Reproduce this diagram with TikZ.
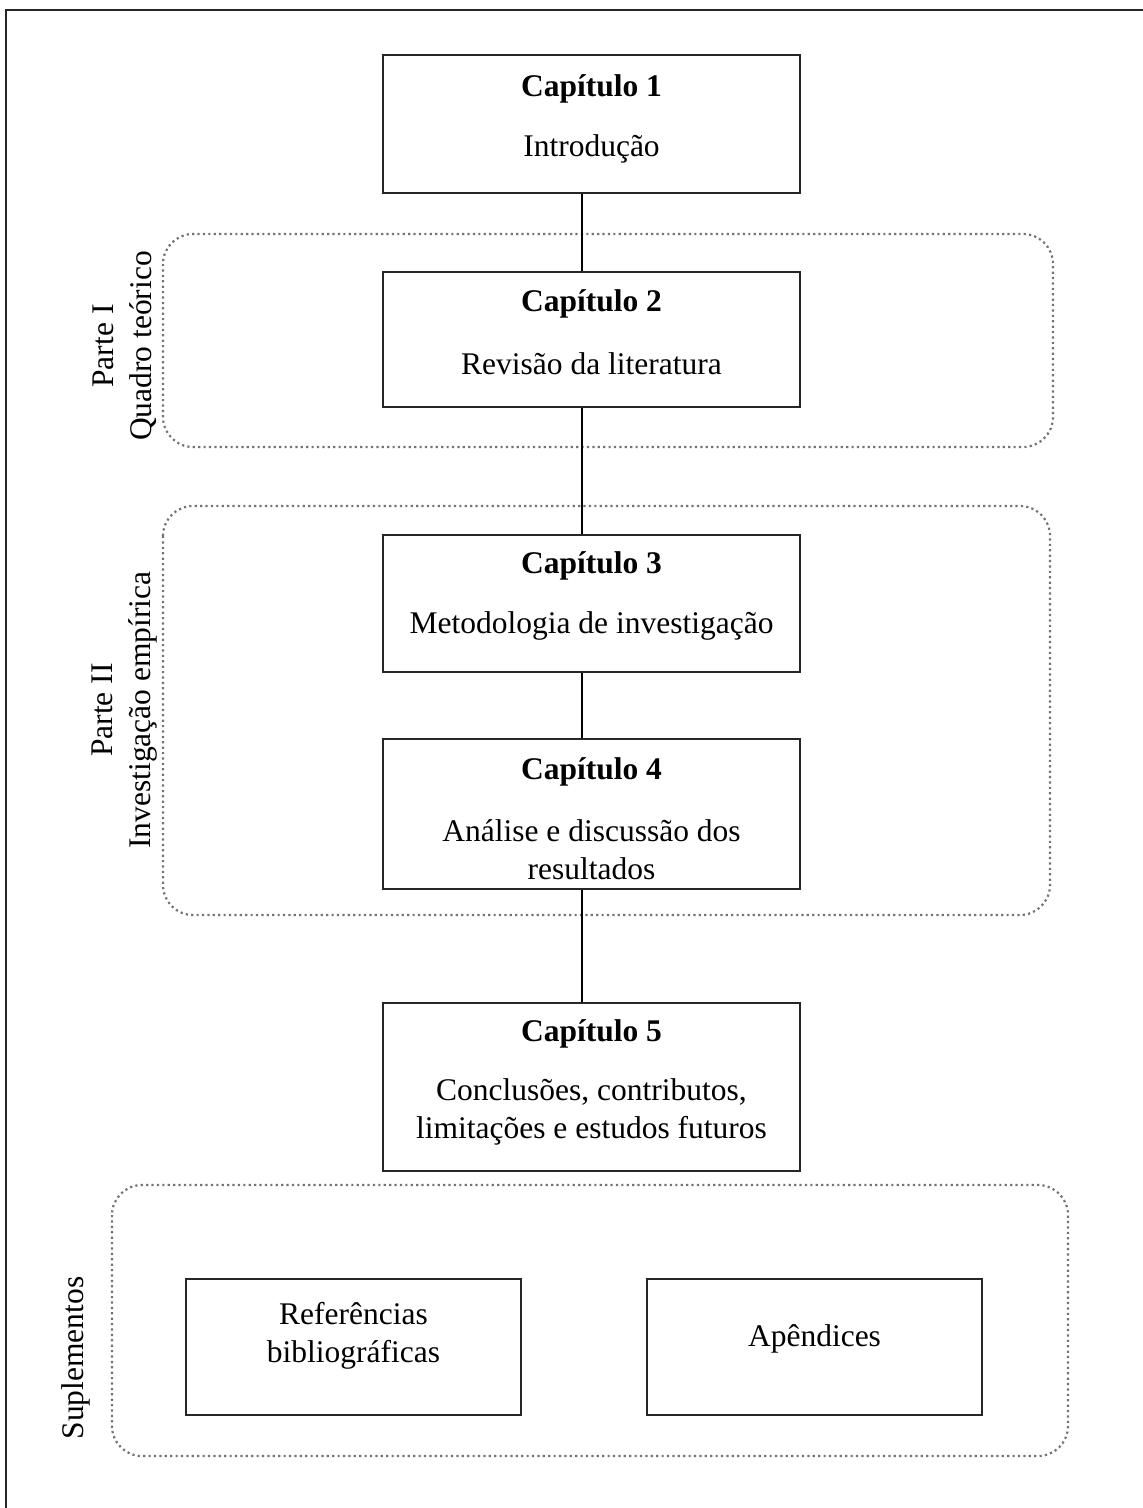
\documentclass[tikz,border=0pt]{standalone}
\usepackage{fontspec}
\setmainfont{Liberation Serif}
\begin{document}
\begin{tikzpicture}[x=1pt,y=-1pt,
  chbox/.style={draw=black!85, line width=1.6pt, inner sep=0pt},
  region/.style={draw=black!55, line width=2.2pt, dash pattern=on 2.2pt off 3.2pt, rounded corners=30pt},
  ttl/.style={font=\fontsize{31.5}{38}\selectfont\bfseries, inner sep=0pt, align=center},
  txt/.style={font=\fontsize{31.5}{38}\selectfont, inner sep=0pt, align=center},
  link/.style={draw=black, line width=1.3pt}]
\useasboundingbox (0,0) rectangle (1143,1508);
% outer frame (extends beyond right and bottom edges)
\draw[line width=2pt, black!85] (6,1530) -- (6,10) -- (1170,10);
% regions
\draw[region] (163,234) rectangle (1053,447);
\draw[region] (163,506) rectangle (1050,915);
\draw[region] (112,1185) rectangle (1068,1456);
% boxes
\node[chbox, minimum width=417pt, minimum height=138pt] (c1) at (591.5,124) {};
\node[chbox, minimum width=417pt, minimum height=135pt] (c2) at (591.5,339.5) {};
\node[chbox, minimum width=417pt, minimum height=137pt] (c3) at (591.5,603.5) {};
\node[chbox, minimum width=417pt, minimum height=150pt] (c4) at (591.5,814) {};
\node[chbox, minimum width=417pt, minimum height=168pt] (c5) at (591.5,1087) {};
\node[chbox, minimum width=335pt, minimum height=136pt] (ref) at (353.5,1347) {};
\node[chbox, minimum width=335pt, minimum height=136pt] (ape) at (814.5,1347) {};
% texts
\node[ttl] (c1t) at (591.5,89) {Capítulo 1};
\node[txt] (c1b) at (591.5,149) {Introdução};
\node[ttl] (c2t) at (591.5,304) {Capítulo 2};
\node[txt] (c2b) at (591.5,364) {Revisão da literatura};
\node[ttl] (c3t) at (591.5,566) {Capítulo 3};
\node[txt] (c3b) at (591.5,626) {Metodologia de investigação};
\node[ttl] (c4t) at (591.5,772) {Capítulo 4};
\node[txt] (c4b) at (591.5,850) {Análise e discussão dos\\resultados};
\node[ttl] (c5t) at (591.5,1034) {Capítulo 5};
\node[txt] (c5b) at (591.5,1112) {Conclusões, contributos,\\limitações e estudos futuros};
\node[txt] (reft) at (353.5,1336) {Referências\\bibliográficas};
\node[txt] (apet) at (814.5,1339) {Apêndices};
% side labels
\node[txt, rotate=90] (p1) at (125,346) {Parte I\\Quadro teórico};
\node[txt, rotate=90] (p2) at (125,710) {Parte II\\Investigação empírica};
\node[txt, rotate=90] (sup) at (76,1358) {Suplementos};
% connectors
\coordinate (lx) at (582,0);
\draw[link] (c1.south -| lx) -- (c2.north -| lx);
\draw[link] (c2.south -| lx) -- (c3.north -| lx);
\draw[link] (c3.south -| lx) -- (c4.north -| lx);
\draw[link] (c4.south -| lx) -- (c5.north -| lx);
\end{tikzpicture}
\end{document}
